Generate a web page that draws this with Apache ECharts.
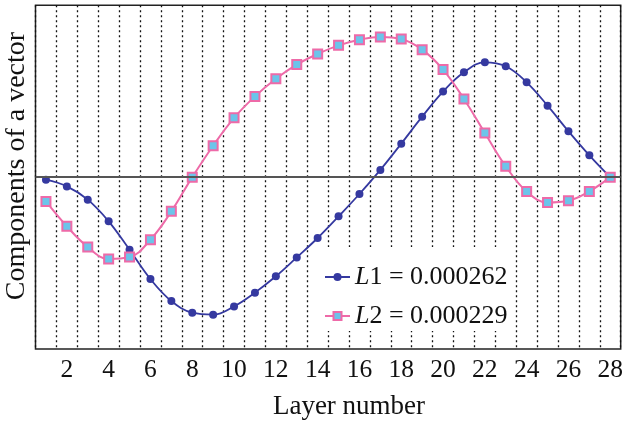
<!DOCTYPE html>
<html>
<head>
<meta charset="utf-8">
<script src="https://cdn.jsdelivr.net/npm/echarts@6/dist/echarts.min.js"></script>
<style>html,body{margin:0;padding:0;background:#fff}#c{width:626px;height:424px}</style>
</head>
<body>
<div id="c"></div>
<script>
var layers = [1,2,3,4,5,6,7,8,9,10,11,12,13,14,15,16,17,18,19,20,21,22,23,24,25,26,27,28];
var l1Values = [-0.015,-0.054,-0.131,-0.257,-0.422,-0.593,-0.721,-0.789,-0.800,-0.752,-0.672,-0.577,-0.467,-0.354,-0.228,-0.098,0.042,0.195,0.352,0.498,0.610,0.668,0.645,0.552,0.416,0.267,0.127,0.0];
var l2Values = [-0.141,-0.286,-0.406,-0.476,-0.465,-0.364,-0.199,0.0,0.183,0.345,0.470,0.573,0.655,0.717,0.767,0.800,0.816,0.804,0.742,0.626,0.455,0.257,0.063,-0.084,-0.147,-0.137,-0.083,0.0];
var seriesNames = ['L1', 'L2'];
var seriesLabels = {L1: '0.000262', L2: '0.000229'};
var xTitle = 'Layer number';
var yTitle = 'Components of a vector';

var FONT = '"Liberation Serif", "DejaVu Serif", serif';
function pairs(vals){ return layers.map(function(x,i){ return [x, vals[i]]; }); }

var chart = echarts.init(document.getElementById('c'), null, {renderer:'canvas'});
chart.setOption({
  animation: false,
  backgroundColor: '#fff',
  grid: {left: 35.5, right: 1.3, top: 5.3, bottom: 75, show: true, borderColor: '#222', borderWidth: 1.5, backgroundColor: 'transparent', containLabel: false},
  xAxis: [
    {type: 'value', min: 0.5, max: 28.5, interval: 0.5, position: 'bottom',
     axisLine: {show: false}, axisTick: {show: false}, splitLine: {show: false},
     axisLabel: {margin: 8, fontFamily: FONT, fontSize: 25.5, color: '#111',
       formatter: function(v){ return (Math.abs(v - Math.round(v)) < 1e-6 && Math.round(v) % 2 === 0) ? String(Math.round(v)) : ''; }}},
    {type: 'value', min: 0.5, max: 28.5, interval: 1, position: 'bottom',
     axisLine: {show: false}, axisTick: {show: false}, axisLabel: {show: false},
     splitLine: {show: true, lineStyle: {color: '#111', width: 1.3, type: [2, 3]}}}
  ],
  yAxis: {type: 'value', min: -1, max: 1, interval: 1,
    axisLine: {show: false}, axisTick: {show: false}, axisLabel: {show: false}, splitLine: {show: false}},
  legend: {
    orient: 'vertical', left: 318, top: 247, itemWidth: 25, itemHeight: 10, itemGap: 13,
    padding: [17, 4, 2, 6], backgroundColor: '#fff',
    data: seriesNames,
    textStyle: {fontFamily: FONT, fontSize: 26, color: '#111',
      rich: {i: {fontFamily: FONT, fontSize: 26, fontStyle: 'italic', color: '#111'},
             n: {fontFamily: FONT, fontSize: 26, color: '#111'}}},
    formatter: function(name){ return '{i|' + name.charAt(0) + '}{n|' + name.slice(1) + ' = ' + seriesLabels[name] + '}'; }
  },
  graphic: [
    {type: 'text', position: [349, 407], style: {text: xTitle, font: '27px ' + FONT, fill: '#111', textAlign: 'center', textVerticalAlign: 'middle'}},
    {type: 'text', position: [17, 166], rotation: Math.PI / 2, style: {text: yTitle, font: '28px ' + FONT, fill: '#111', textAlign: 'center', textVerticalAlign: 'middle'}}
  ],
  series: [
    {name: 'L1', type: 'line', xAxisIndex: 0, data: pairs(l1Values), smooth: 0.4,
     symbol: 'circle', symbolSize: 8, showSymbol: true,
     lineStyle: {color: '#3539a0', width: 1.8},
     itemStyle: {color: '#3539a0'},
     markLine: {silent: true, symbol: 'none', label: {show: false}, animation: false,
       lineStyle: {color: '#555', width: 2, type: 'solid'}, data: [{yAxis: 0}]},
     z: 3},
    {name: 'L2', type: 'line', xAxisIndex: 0, data: pairs(l2Values), smooth: 0.4,
     symbol: 'rect', symbolSize: 9, showSymbol: true,
     lineStyle: {color: '#ee6aa8', width: 2},
     itemStyle: {color: '#6cc4ea', borderColor: '#ee6aa8', borderWidth: 2},
     z: 4}
  ]
});
</script>
</body>
</html>
